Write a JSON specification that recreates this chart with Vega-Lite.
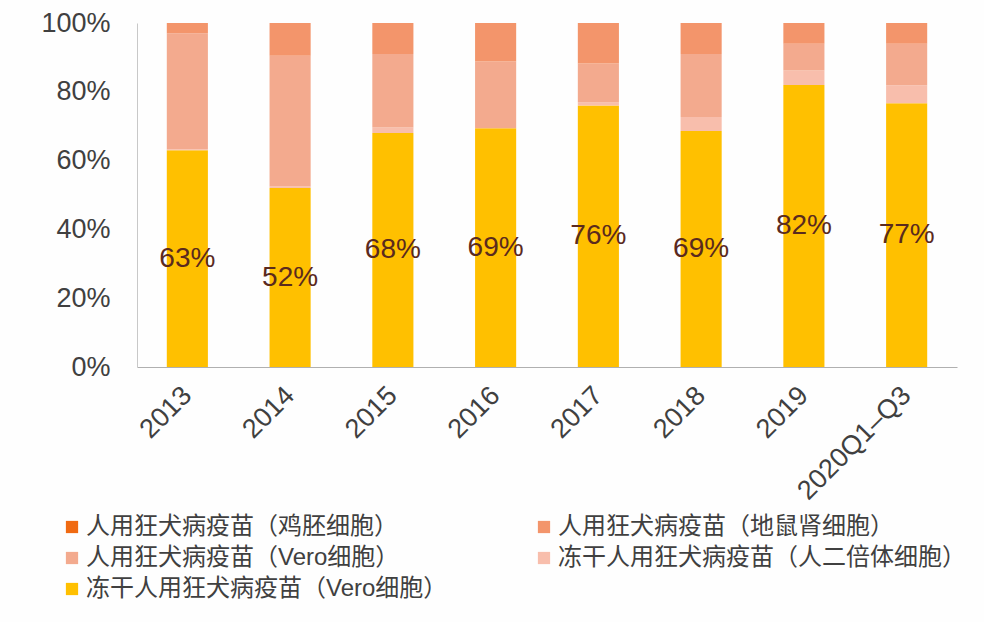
{
  "$schema": "https://vega.github.io/schema/vega-lite/v6.json",
  "autosize": {"type": "none"},
  "padding": {"left": 137, "top": 23, "right": 27, "bottom": 255},
  "width": 820,
  "height": 344,
  "background": "#fefefe",
  "config": {
    "font": "Liberation Sans, Noto Sans CJK SC",
    "view": {"stroke": null}
  },
  "data": {
    "values": [
      {"year": "2013", "type": "冻干人用狂犬病疫苗（Vero细胞）", "k": 1, "v": 63},
      {"year": "2013", "type": "冻干人用狂犬病疫苗（人二倍体细胞）", "k": 2, "v": 0.3},
      {"year": "2013", "type": "人用狂犬病疫苗（Vero细胞）", "k": 3, "v": 33.7},
      {"year": "2013", "type": "人用狂犬病疫苗（地鼠肾细胞）", "k": 4, "v": 3},
      {"year": "2013", "type": "人用狂犬病疫苗（鸡胚细胞）", "k": 5, "v": 0},
      {"year": "2014", "type": "冻干人用狂犬病疫苗（Vero细胞）", "k": 1, "v": 52},
      {"year": "2014", "type": "冻干人用狂犬病疫苗（人二倍体细胞）", "k": 2, "v": 0.5},
      {"year": "2014", "type": "人用狂犬病疫苗（Vero细胞）", "k": 3, "v": 38},
      {"year": "2014", "type": "人用狂犬病疫苗（地鼠肾细胞）", "k": 4, "v": 9.5},
      {"year": "2014", "type": "人用狂犬病疫苗（鸡胚细胞）", "k": 5, "v": 0},
      {"year": "2015", "type": "冻干人用狂犬病疫苗（Vero细胞）", "k": 1, "v": 68},
      {"year": "2015", "type": "冻干人用狂犬病疫苗（人二倍体细胞）", "k": 2, "v": 1.6},
      {"year": "2015", "type": "人用狂犬病疫苗（Vero细胞）", "k": 3, "v": 21.4},
      {"year": "2015", "type": "人用狂犬病疫苗（地鼠肾细胞）", "k": 4, "v": 9},
      {"year": "2015", "type": "人用狂犬病疫苗（鸡胚细胞）", "k": 5, "v": 0},
      {"year": "2016", "type": "冻干人用狂犬病疫苗（Vero细胞）", "k": 1, "v": 69.4},
      {"year": "2016", "type": "冻干人用狂犬病疫苗（人二倍体细胞）", "k": 2, "v": 0},
      {"year": "2016", "type": "人用狂犬病疫苗（Vero细胞）", "k": 3, "v": 19.4},
      {"year": "2016", "type": "人用狂犬病疫苗（地鼠肾细胞）", "k": 4, "v": 11.2},
      {"year": "2016", "type": "人用狂犬病疫苗（鸡胚细胞）", "k": 5, "v": 0},
      {"year": "2017", "type": "冻干人用狂犬病疫苗（Vero细胞）", "k": 1, "v": 76},
      {"year": "2017", "type": "冻干人用狂犬病疫苗（人二倍体细胞）", "k": 2, "v": 0.9},
      {"year": "2017", "type": "人用狂犬病疫苗（Vero细胞）", "k": 3, "v": 11.3},
      {"year": "2017", "type": "人用狂犬病疫苗（地鼠肾细胞）", "k": 4, "v": 11.8},
      {"year": "2017", "type": "人用狂犬病疫苗（鸡胚细胞）", "k": 5, "v": 0},
      {"year": "2018", "type": "冻干人用狂犬病疫苗（Vero细胞）", "k": 1, "v": 68.6},
      {"year": "2018", "type": "冻干人用狂犬病疫苗（人二倍体细胞）", "k": 2, "v": 4.1},
      {"year": "2018", "type": "人用狂犬病疫苗（Vero细胞）", "k": 3, "v": 18.3},
      {"year": "2018", "type": "人用狂犬病疫苗（地鼠肾细胞）", "k": 4, "v": 9},
      {"year": "2018", "type": "人用狂犬病疫苗（鸡胚细胞）", "k": 5, "v": 0},
      {"year": "2019", "type": "冻干人用狂犬病疫苗（Vero细胞）", "k": 1, "v": 82},
      {"year": "2019", "type": "冻干人用狂犬病疫苗（人二倍体细胞）", "k": 2, "v": 4.2},
      {"year": "2019", "type": "人用狂犬病疫苗（Vero细胞）", "k": 3, "v": 7.8},
      {"year": "2019", "type": "人用狂犬病疫苗（地鼠肾细胞）", "k": 4, "v": 6},
      {"year": "2019", "type": "人用狂犬病疫苗（鸡胚细胞）", "k": 5, "v": 0},
      {"year": "2020Q1–Q3", "type": "冻干人用狂犬病疫苗（Vero细胞）", "k": 1, "v": 76.7},
      {"year": "2020Q1–Q3", "type": "冻干人用狂犬病疫苗（人二倍体细胞）", "k": 2, "v": 5.2},
      {"year": "2020Q1–Q3", "type": "人用狂犬病疫苗（Vero细胞）", "k": 3, "v": 12.1},
      {"year": "2020Q1–Q3", "type": "人用狂犬病疫苗（地鼠肾细胞）", "k": 4, "v": 6},
      {"year": "2020Q1–Q3", "type": "人用狂犬病疫苗（鸡胚细胞）", "k": 5, "v": 0}
    ]
  },
  "encoding": {
    "x": {
      "field": "year", "type": "nominal", "sort": null,
      "scale": {"paddingInner": 0.6, "paddingOuter": 0.29},
      "axis": {
        "title": null, "labelAngle": -45, "labelAlign": "right", "labelBaseline": "middle",
        "labelFontSize": 27, "labelColor": "#404040", "labelPadding": 24,
        "ticks": false, "domainColor": "#b0b0b0", "domainWidth": 1.2
      }
    }
  },
  "layer": [
    {
      "mark": {"type": "bar"},
      "encoding": {
        "y": {
          "field": "v", "type": "quantitative", "stack": "zero",
          "scale": {"domain": [0, 100], "nice": false},
          "axis": {
            "title": null, "values": [0, 20, 40, 60, 80, 100],
            "labelExpr": "datum.value + '%'", "labelFontSize": 27, "labelColor": "#404040",
            "labelPadding": 27, "ticks": false, "grid": false,
            "domainColor": "#c8c8c8", "domainWidth": 1
          }
        },
        "order": {"field": "k", "type": "quantitative", "sort": "ascending"},
        "color": {
          "field": "type", "type": "nominal",
          "scale": {
            "domain": ["人用狂犬病疫苗（鸡胚细胞）", "人用狂犬病疫苗（地鼠肾细胞）", "人用狂犬病疫苗（Vero细胞）", "冻干人用狂犬病疫苗（人二倍体细胞）", "冻干人用狂犬病疫苗（Vero细胞）"],
            "range": ["#F06A12", "#F3956B", "#F3AA8E", "#F8BEAC", "#FFC000"]
          },
          "legend": {
            "title": null, "orient": "none", "legendX": -77, "legendY": 492,
            "direction": "horizontal", "columns": 2, "columnPadding": 84, "rowPadding": 7,
            "symbolType": "square", "symbolSize": 150, "symbolStrokeWidth": 0,
            "labelFontSize": 24, "labelColor": "#404040", "labelLimit": 600, "labelOffset": 2
          }
        }
      }
    },
    {
      "transform": [
        {"filter": "datum.k == 1"},
        {"calculate": "datum.v / 2", "as": "mid"},
        {"calculate": "format(round(datum.v), 'd') + '%'", "as": "lab"}
      ],
      "mark": {"type": "text", "fontSize": 28, "color": "#5A2A1E", "baseline": "middle"},
      "encoding": {
        "y": {"field": "mid", "type": "quantitative"},
        "text": {"field": "lab"}
      }
    }
  ]
}
